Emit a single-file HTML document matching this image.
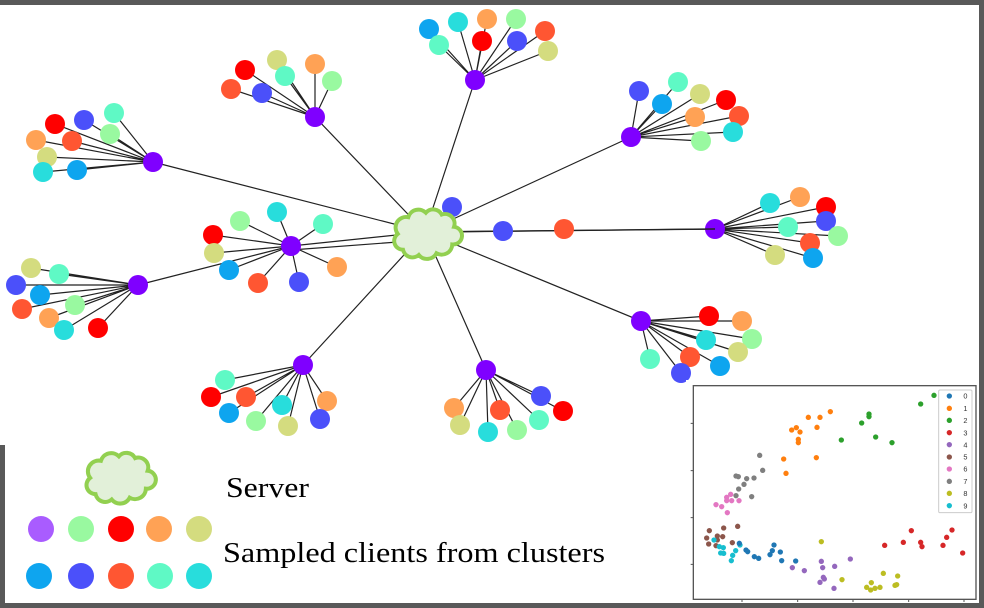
<!DOCTYPE html>
<html><head><meta charset="utf-8"><style>html,body{margin:0;padding:0;background:#595959}svg{display:block}</style></head><body>
<svg width="984" height="608" viewBox="0 0 984 608" xmlns="http://www.w3.org/2000/svg">
<rect x="0" y="0" width="984" height="608" fill="#595959"/>
<rect x="0" y="5" width="979" height="440" fill="#fff"/>
<rect x="5" y="440" width="974" height="163" fill="#fff"/>
<g stroke="#222" stroke-width="1.2" fill="none">
<path d="M425,232L475,80M425,232L315,117M425,232L153,162M425,232L631,137M425,232L291,246M425,232L715,229M425,232L452,207M138,285L291,246M425,232L641,321M425,232L303,365M425,232L486,370M425,240L291,250"/>
<path d="M475,80L429,29M475,80L458,22M475,80L487,19M475,80L516,19M475,80L545,31M475,80L439,45M475,80L482,41M475,80L517,41M475,80L548,51"/>
<path d="M315,117L245,70M315,117L277,60M315,117L315,64M315,117L285,76M315,117L332,81M315,117L231,89M315,117L262,93"/>
<path d="M153,162L114,113M153,162L84,120M153,162L55,124M153,162L110,134M153,162L72,141M153,162L36,140M153,162L47,157M153,162L43,172M153,162L77,170"/>
<path d="M631,137L639,91M631,137L678,82M631,137L662,104M631,137L700,94M631,137L726,100M631,137L695,117M631,137L739,116M631,137L733,132M631,137L701,141"/>
<path d="M291,246L240,221M291,246L277,212M291,246L323,224M291,246L213,235M291,246L214,253M291,246L229,270M291,246L258,283M291,246L299,282M291,246L337,267"/>
<path d="M715,229L770,203M715,229L800,197M715,229L826,207M715,229L826,221M715,229L788,227M715,229L838,236M715,229L810,243M715,229L775,255M715,229L813,258"/>
<path d="M138,285L31,268M138,285L59,274M138,285L16,285M138,285L40,295M138,285L22,309M138,285L75,305M138,285L49,318M138,285L64,330M138,285L98,328"/>
<path d="M641,321L709,316M641,321L742,321M641,321L706,340M641,321L752,339M641,321L690,357M641,321L738,352M641,321L650,359M641,321L681,373M641,321L720,366"/>
<path d="M303,365L225,380M303,365L211,397M303,365L246,397M303,365L229,413M303,365L256,421M303,365L282,405M303,365L288,426M303,365L327,401M303,365L320,419"/>
<path d="M486,370L454,408M486,370L460,425M486,370L488,432M486,370L517,430M486,370L539,420M486,370L500,410M486,370L541,396M486,370L563,411"/>
</g>
<g>
<circle cx="429" cy="29" r="10" fill="#0ea5ef"/><circle cx="458" cy="22" r="10" fill="#28dddc"/><circle cx="487" cy="19" r="10" fill="#ffa255"/><circle cx="516" cy="19" r="10" fill="#99f9a0"/><circle cx="545" cy="31" r="10" fill="#ff5632"/><circle cx="439" cy="45" r="10" fill="#5ff9c5"/><circle cx="482" cy="41" r="10" fill="#ff0000"/><circle cx="517" cy="41" r="10" fill="#4b50fa"/><circle cx="548" cy="51" r="10" fill="#d4dc7f"/><circle cx="475" cy="80" r="10" fill="#7f00ff"/>
<circle cx="245" cy="70" r="10" fill="#ff0000"/><circle cx="277" cy="60" r="10" fill="#d4dc7f"/><circle cx="315" cy="64" r="10" fill="#ffa255"/><circle cx="285" cy="76" r="10" fill="#5ff9c5"/><circle cx="332" cy="81" r="10" fill="#99f9a0"/><circle cx="231" cy="89" r="10" fill="#ff5632"/><circle cx="262" cy="93" r="10" fill="#4b50fa"/><circle cx="315" cy="117" r="10" fill="#7f00ff"/>
<circle cx="114" cy="113" r="10" fill="#5ff9c5"/><circle cx="84" cy="120" r="10" fill="#4b50fa"/><circle cx="55" cy="124" r="10" fill="#ff0000"/><circle cx="110" cy="134" r="10" fill="#99f9a0"/><circle cx="72" cy="141" r="10" fill="#ff5632"/><circle cx="36" cy="140" r="10" fill="#ffa255"/><circle cx="47" cy="157" r="10" fill="#d4dc7f"/><circle cx="43" cy="172" r="10" fill="#28dddc"/><circle cx="77" cy="170" r="10" fill="#0ea5ef"/><circle cx="153" cy="162" r="10" fill="#7f00ff"/>
<circle cx="639" cy="91" r="10" fill="#4b50fa"/><circle cx="678" cy="82" r="10" fill="#5ff9c5"/><circle cx="662" cy="104" r="10" fill="#0ea5ef"/><circle cx="700" cy="94" r="10" fill="#d4dc7f"/><circle cx="726" cy="100" r="10" fill="#ff0000"/><circle cx="695" cy="117" r="10" fill="#ffa255"/><circle cx="739" cy="116" r="10" fill="#ff5632"/><circle cx="733" cy="132" r="10" fill="#28dddc"/><circle cx="701" cy="141" r="10" fill="#99f9a0"/><circle cx="631" cy="137" r="10" fill="#7f00ff"/>
<circle cx="240" cy="221" r="10" fill="#99f9a0"/><circle cx="277" cy="212" r="10" fill="#28dddc"/><circle cx="323" cy="224" r="10" fill="#5ff9c5"/><circle cx="213" cy="235" r="10" fill="#ff0000"/><circle cx="214" cy="253" r="10" fill="#d4dc7f"/><circle cx="229" cy="270" r="10" fill="#0ea5ef"/><circle cx="258" cy="283" r="10" fill="#ff5632"/><circle cx="299" cy="282" r="10" fill="#4b50fa"/><circle cx="337" cy="267" r="10" fill="#ffa255"/><circle cx="291" cy="246" r="10" fill="#7f00ff"/>
<circle cx="770" cy="203" r="10" fill="#28dddc"/><circle cx="800" cy="197" r="10" fill="#ffa255"/><circle cx="826" cy="207" r="10" fill="#ff0000"/><circle cx="826" cy="221" r="10" fill="#4b50fa"/><circle cx="788" cy="227" r="10" fill="#5ff9c5"/><circle cx="838" cy="236" r="10" fill="#99f9a0"/><circle cx="810" cy="243" r="10" fill="#ff5632"/><circle cx="775" cy="255" r="10" fill="#d4dc7f"/><circle cx="813" cy="258" r="10" fill="#0ea5ef"/><circle cx="715" cy="229" r="10" fill="#7f00ff"/>
<path d="M425,232L715,229" stroke="#222" stroke-width="1.4"/>
<circle cx="503" cy="231" r="10" fill="#4b50fa"/><circle cx="564" cy="229" r="10" fill="#ff5632"/><circle cx="452" cy="207" r="10" fill="#4b50fa"/>
<circle cx="31" cy="268" r="10" fill="#d4dc7f"/><circle cx="59" cy="274" r="10" fill="#5ff9c5"/><circle cx="16" cy="285" r="10" fill="#4b50fa"/><circle cx="40" cy="295" r="10" fill="#0ea5ef"/><circle cx="22" cy="309" r="10" fill="#ff5632"/><circle cx="75" cy="305" r="10" fill="#99f9a0"/><circle cx="49" cy="318" r="10" fill="#ffa255"/><circle cx="64" cy="330" r="10" fill="#28dddc"/><circle cx="98" cy="328" r="10" fill="#ff0000"/><circle cx="138" cy="285" r="10" fill="#7f00ff"/>
<circle cx="709" cy="316" r="10" fill="#ff0000"/><circle cx="742" cy="321" r="10" fill="#ffa255"/><circle cx="706" cy="340" r="10" fill="#28dddc"/><circle cx="752" cy="339" r="10" fill="#99f9a0"/><circle cx="690" cy="357" r="10" fill="#ff5632"/><circle cx="738" cy="352" r="10" fill="#d4dc7f"/><circle cx="650" cy="359" r="10" fill="#5ff9c5"/><circle cx="681" cy="373" r="10" fill="#4b50fa"/><circle cx="720" cy="366" r="10" fill="#0ea5ef"/><circle cx="641" cy="321" r="10" fill="#7f00ff"/>
<circle cx="225" cy="380" r="10" fill="#5ff9c5"/><circle cx="211" cy="397" r="10" fill="#ff0000"/><circle cx="246" cy="397" r="10" fill="#ff5632"/><circle cx="229" cy="413" r="10" fill="#0ea5ef"/><circle cx="256" cy="421" r="10" fill="#99f9a0"/><circle cx="282" cy="405" r="10" fill="#28dddc"/><circle cx="288" cy="426" r="10" fill="#d4dc7f"/><circle cx="327" cy="401" r="10" fill="#ffa255"/><circle cx="320" cy="419" r="10" fill="#4b50fa"/><circle cx="303" cy="365" r="10" fill="#7f00ff"/>
<circle cx="454" cy="408" r="10" fill="#ffa255"/><circle cx="460" cy="425" r="10" fill="#d4dc7f"/><circle cx="488" cy="432" r="10" fill="#28dddc"/><circle cx="517" cy="430" r="10" fill="#99f9a0"/><circle cx="539" cy="420" r="10" fill="#5ff9c5"/><circle cx="500" cy="410" r="10" fill="#ff5632"/><circle cx="541" cy="396" r="10" fill="#4b50fa"/><circle cx="563" cy="411" r="10" fill="#ff0000"/><circle cx="486" cy="370" r="10" fill="#7f00ff"/>
</g>
<g transform="translate(425,233) scale(0.88) translate(-425,-233)">
<path d="M400,252 a10,10 0 0 1 -6,-18 a12,12 0 0 1 12,-19 a12,12 0 0 1 20,-5 a11,11 0 0 1 18,2 a11,11 0 0 1 14,14 a10,10 0 0 1 -2,20 a12,12 0 0 1 -18,10 a12,12 0 0 1 -20,2 a11,11 0 0 1 -18,-6 z" fill="#e2f0d9" stroke="#92d050" stroke-width="4.5"/>
</g>
<g transform="translate(118,477) scale(0.9) translate(-425,-233)">
<path d="M400,252 a10,10 0 0 1 -6,-18 a12,12 0 0 1 12,-19 a12,12 0 0 1 20,-5 a11,11 0 0 1 18,2 a11,11 0 0 1 14,14 a10,10 0 0 1 -2,20 a12,12 0 0 1 -18,10 a12,12 0 0 1 -20,2 a11,11 0 0 1 -18,-6 z" fill="#e2f0d9" stroke="#92d050" stroke-width="4.5"/>
</g>
<g>
<circle cx="41" cy="529" r="13" fill="#a95cff"/><circle cx="81" cy="529" r="13" fill="#99f9a0"/><circle cx="121" cy="529" r="13" fill="#ff0000"/><circle cx="159" cy="529" r="13" fill="#ffa255"/><circle cx="199" cy="529" r="13" fill="#d4dc7f"/>
<circle cx="39" cy="576" r="13" fill="#0ea5ef"/><circle cx="81" cy="576" r="13" fill="#4b50fa"/><circle cx="121" cy="576" r="13" fill="#ff5632"/><circle cx="160" cy="576" r="13" fill="#5ff9c5"/><circle cx="199" cy="576" r="13" fill="#28dddc"/>
</g>
<text x="226" y="497" font-family="Liberation Serif, serif" font-size="28" fill="#000" textLength="83" lengthAdjust="spacingAndGlyphs">Server</text>
<text x="223" y="562" font-family="Liberation Serif, serif" font-size="28" fill="#000" textLength="382" lengthAdjust="spacingAndGlyphs">Sampled clients from clusters</text>
<rect x="686" y="380" width="293" height="223" fill="#fff"/>
<g transform="translate(680,380) scale(0.33333)">
<rect x="40" y="17" width="848" height="641" fill="#fff" stroke="#555" stroke-width="4"/>
<g stroke="#555" stroke-width="3"><path d="M186,658v8M353,658v8M519,658v8M686,658v8M852,658v8M40,130h-8M40,272h-8M40,413h-8M40,553h-8"/></g>
<g fill="#ff7f0e"><circle cx="385" cy="112" r="8"/><circle cx="420" cy="112" r="8"/><circle cx="451" cy="95" r="8"/><circle cx="335" cy="150" r="8"/><circle cx="349" cy="143" r="8"/><circle cx="360" cy="156" r="8"/><circle cx="411" cy="142" r="8"/><circle cx="355" cy="178" r="8"/><circle cx="355" cy="188" r="8"/><circle cx="311" cy="237" r="8"/><circle cx="409" cy="233" r="8"/><circle cx="318" cy="280" r="8"/></g>
<g fill="#2ca02c"><circle cx="762" cy="46" r="8"/><circle cx="722" cy="72" r="8"/><circle cx="567" cy="102" r="8"/><circle cx="567" cy="110" r="8"/><circle cx="545" cy="129" r="8"/><circle cx="484" cy="180" r="8"/><circle cx="587" cy="171" r="8"/><circle cx="636" cy="188" r="8"/></g>
<g fill="#7f7f7f"><circle cx="239" cy="226" r="8"/><circle cx="248" cy="271" r="8"/><circle cx="168" cy="288" r="8"/><circle cx="175" cy="290" r="8"/><circle cx="200" cy="296" r="8"/><circle cx="222" cy="294" r="8"/><circle cx="192" cy="313" r="8"/><circle cx="176" cy="327" r="8"/><circle cx="168" cy="347" r="8"/><circle cx="215" cy="350" r="8"/></g>
<g fill="#e377c2"><circle cx="108" cy="374" r="8"/><circle cx="125" cy="380" r="8"/><circle cx="142" cy="398" r="8"/><circle cx="140" cy="352" r="8"/><circle cx="152" cy="343" r="8"/><circle cx="155" cy="362" r="8"/><circle cx="177" cy="362" r="8"/><circle cx="140" cy="362" r="8"/></g>
<g fill="#8c564b"><circle cx="88" cy="452" r="8"/><circle cx="131" cy="444" r="8"/><circle cx="173" cy="439" r="8"/><circle cx="80" cy="474" r="8"/><circle cx="112" cy="468" r="8"/><circle cx="128" cy="470" r="8"/><circle cx="86" cy="492" r="8"/><circle cx="108" cy="497" r="8"/><circle cx="157" cy="488" r="8"/><circle cx="112" cy="480" r="8"/></g>
<g fill="#17becf"><circle cx="102" cy="480" r="8"/><circle cx="118" cy="500" r="8"/><circle cx="130" cy="503" r="8"/><circle cx="122" cy="519" r="8"/><circle cx="131" cy="520" r="8"/><circle cx="158" cy="526" r="8"/><circle cx="154" cy="542" r="8"/><circle cx="167" cy="512" r="8"/><circle cx="180" cy="495" r="8"/></g>
<g fill="#1f77b4"><circle cx="178" cy="490" r="8"/><circle cx="198" cy="510" r="8"/><circle cx="203" cy="515" r="8"/><circle cx="223" cy="530" r="8"/><circle cx="236" cy="535" r="8"/><circle cx="282" cy="495" r="8"/><circle cx="277" cy="512" r="8"/><circle cx="270" cy="524" r="8"/><circle cx="301" cy="516" r="8"/><circle cx="305" cy="542" r="8"/><circle cx="347" cy="543" r="8"/></g>
<g fill="#9467bd"><circle cx="337" cy="563" r="8"/><circle cx="373" cy="572" r="8"/><circle cx="424" cy="544" r="8"/><circle cx="428" cy="563" r="8"/><circle cx="464" cy="559" r="8"/><circle cx="511" cy="537" r="8"/><circle cx="430" cy="592" r="8"/><circle cx="433" cy="597" r="8"/><circle cx="420" cy="607" r="8"/><circle cx="462" cy="625" r="8"/></g>
<g fill="#bcbd22"><circle cx="424" cy="485" r="8"/><circle cx="486" cy="599" r="8"/><circle cx="610" cy="580" r="8"/><circle cx="653" cy="588" r="8"/><circle cx="560" cy="622" r="8"/><circle cx="574" cy="608" r="8"/><circle cx="572" cy="630" r="8"/><circle cx="585" cy="625" r="8"/><circle cx="600" cy="622" r="8"/><circle cx="645" cy="616" r="8"/><circle cx="650" cy="614" r="8"/></g>
<g fill="#d62728"><circle cx="694" cy="452" r="8"/><circle cx="670" cy="487" r="8"/><circle cx="614" cy="496" r="8"/><circle cx="722" cy="487" r="8"/><circle cx="726" cy="500" r="8"/><circle cx="789" cy="496" r="8"/><circle cx="800" cy="472" r="8"/><circle cx="816" cy="450" r="8"/><circle cx="848" cy="519" r="8"/></g>
<rect x="776" y="30" width="100" height="368" fill="#fff" stroke="#ccc" stroke-width="3" rx="4"/>
<g font-family="Liberation Sans, sans-serif" font-size="22" fill="#333">
<circle cx="808" cy="48" r="8" fill="#1f77b4"/><text x="850" y="56">0</text>
<circle cx="808" cy="85" r="8" fill="#ff7f0e"/><text x="850" y="93">1</text>
<circle cx="808" cy="121" r="8" fill="#2ca02c"/><text x="850" y="129">2</text>
<circle cx="808" cy="158" r="8" fill="#d62728"/><text x="850" y="166">3</text>
<circle cx="808" cy="194" r="8" fill="#9467bd"/><text x="850" y="202">4</text>
<circle cx="808" cy="231" r="8" fill="#8c564b"/><text x="850" y="239">5</text>
<circle cx="808" cy="267" r="8" fill="#e377c2"/><text x="850" y="275">6</text>
<circle cx="808" cy="304" r="8" fill="#7f7f7f"/><text x="850" y="312">7</text>
<circle cx="808" cy="340" r="8" fill="#bcbd22"/><text x="850" y="348">8</text>
<circle cx="808" cy="377" r="8" fill="#17becf"/><text x="850" y="385">9</text>
</g>
</g>
</svg>
</body></html>
